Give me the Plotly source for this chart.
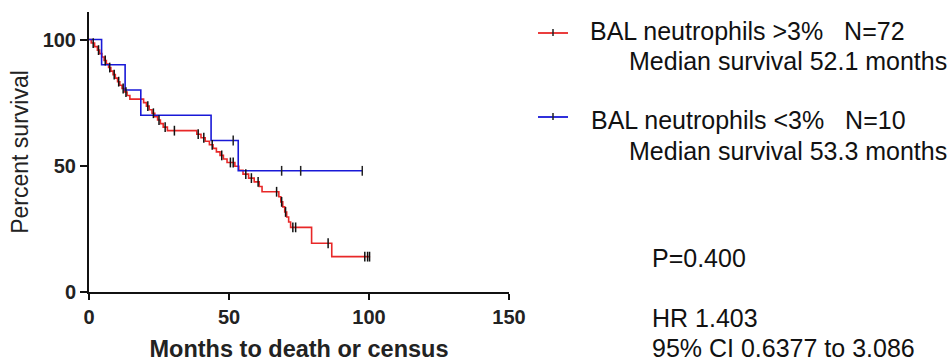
import numpy as np
import plotly.graph_objects as go

# ---------------- data ----------------
red_name = "BAL neutrophils >3%   N=72"
red_median = "Median survival 52.1 months"
blue_name = "BAL neutrophils <3%   N=10"
blue_median = "Median survival 53.3 months"
stats_p = "P=0.400"
stats_hr = "HR 1.403"
stats_ci = "95% CI 0.6377 to 3.086"

red_times = [0, 0.8, 2.0, 3.0, 3.8, 4.6, 5.4, 6.2, 7.0, 7.8, 8.6, 9.4, 10.2, 11.0, 11.8,
             12.7, 13.6, 14.6, 19.5, 20.5, 21.5, 22.5, 23.5, 24.5, 25.5, 26.5, 28.0,
             38.5, 40.0, 41.5, 43.0, 44.3, 45.5, 46.8, 48.0, 49.3, 52.1, 53.5, 55.0,
             57.0, 59.0, 60.8, 61.8, 67.8, 68.5, 69.2, 69.9, 70.6, 71.3, 72.0, 79.5,
             86.7, 100.4]
red_surv = [100, 98.6, 97.2, 95.8, 94.4, 93.1, 91.7, 90.3, 88.9, 87.5, 86.1, 84.7, 83.3,
            81.9, 80.6, 79.2, 77.8, 76.4, 75.0, 73.6, 72.2, 70.8, 69.4, 68.1, 66.7, 65.3,
            63.9, 62.5, 61.1, 59.7, 58.3, 56.9, 55.5, 54.1, 52.7, 51.3, 49.8, 48.2, 46.7,
            45.1, 43.6, 41.8, 39.7, 37.7, 35.7, 33.7, 31.7, 29.7, 27.7, 25.6, 19.3,
            14.0, 14.0]
red_censor = [1.5, 3.4, 5.8, 7.4, 9.0, 10.6, 12.2, 13.2, 21.0, 23.0, 25.0, 27.2, 30.5,
              39.0, 41.0, 44.0, 47.4, 50.5, 51.5, 56.0, 58.0, 60.4, 67.0, 68.8, 70.2,
              72.8, 73.8, 85.4, 98.5, 99.5, 100.2]

blue_times = [0, 4.5, 12.9, 18.5, 43.6, 53.3, 97.6]
blue_surv = [100, 90, 80, 70, 60, 48, 48]
blue_censor = [51.5, 68.8, 75.6, 97.6]

x_ticks = [0, 50, 100, 150]
y_ticks = [0, 50, 100]


def step_at(times, surv, t):
    idx = np.searchsorted(np.asarray(times), np.asarray(t), side="right") - 1
    return list(np.asarray(surv)[idx])


RED = "rgb(232,40,40)"
BLUE = "rgb(25,25,215)"
FONT = "Liberation Sans, Arial, sans-serif"

fig = go.Figure()
fig.add_trace(go.Scatter(x=red_times, y=red_surv, mode="lines", line_shape="hv",
                         line=dict(color=RED, width=1.6), showlegend=False))
fig.add_trace(go.Scatter(x=blue_times, y=blue_surv, mode="lines", line_shape="hv",
                         line=dict(color=BLUE, width=1.6), showlegend=False))
fig.add_trace(go.Scatter(x=red_censor, y=step_at(red_times, red_surv, red_censor),
                         mode="markers",
                         marker=dict(symbol="line-ns", size=7,
                                     line=dict(color="#111", width=1.5)),
                         showlegend=False))
fig.add_trace(go.Scatter(x=blue_censor, y=step_at(blue_times, blue_surv, blue_censor),
                         mode="markers",
                         marker=dict(symbol="line-ns", size=7,
                                     line=dict(color="#222", width=1.5)),
                         showlegend=False))

# plot-area pixel geometry
L, R, T, B = 89, 509, 12, 292
W, H = 951, 363


def px(x):
    return (x - L) / (R - L)


def py(y):
    return (B - y) / (B - T)


fig.update_layout(
    width=W, height=H,
    margin=dict(l=L, r=W - R, t=T, b=H - B, pad=0),
    paper_bgcolor="white", plot_bgcolor="white",
    font=dict(family=FONT, color="#111"),
    xaxis=dict(range=[0, 150], tickvals=x_ticks, ticktext=[str(v) for v in x_ticks],
               automargin=False,
               showgrid=False, zeroline=False, showline=True, linecolor="#111",
               linewidth=2, ticks="outside", ticklen=6, tickwidth=2, tickcolor="#111",
               tickfont=dict(family=FONT, size=20, color="#222", weight="bold"),
               title=dict(text="<b>Months to death or census</b>",
                          font=dict(family=FONT, size=23.5, color="#222"), standoff=14)),
    yaxis=dict(range=[0, 110.9], tickvals=y_ticks, ticktext=[str(v) for v in y_ticks],
               automargin=False,
               showgrid=False, zeroline=False, showline=True, linecolor="#111",
               linewidth=2, ticks="outside", ticklen=7, tickwidth=2, tickcolor="#111",
               tickfont=dict(family=FONT, size=20, color="#222", weight="bold"),
               title=dict(text="Percent survival",
                          font=dict(family=FONT, size=23, color="#222"), standoff=8)),
)

# legend samples (decorative shapes)
for yline, col in [(33, RED), (117, BLUE)]:
    fig.add_shape(type="line", xref="paper", yref="paper",
                  x0=px(538), x1=px(568), y0=py(yline), y1=py(yline),
                  line=dict(color=col, width=1.8))
    fig.add_shape(type="line", xref="paper", yref="paper",
                  x0=px(553), x1=px(553), y0=py(yline - 4), y1=py(yline + 3),
                  line=dict(color="#222", width=1.5))

texts = [
    (red_name, 588, 31),
    (red_median, 627, 61),
    (blue_name, 589, 120),
    (blue_median, 627, 151),
    (stats_p, 650, 258),
    (stats_hr, 650, 318),
    (stats_ci, 650, 348),
]
for txt, x, y in texts:
    fig.add_annotation(text=txt, xref="paper", yref="paper", x=px(x), y=py(y),
                       xanchor="left", yanchor="middle", showarrow=False,
                       font=dict(family=FONT, size=25, color="#111"))

fig.write_html("out.html")
